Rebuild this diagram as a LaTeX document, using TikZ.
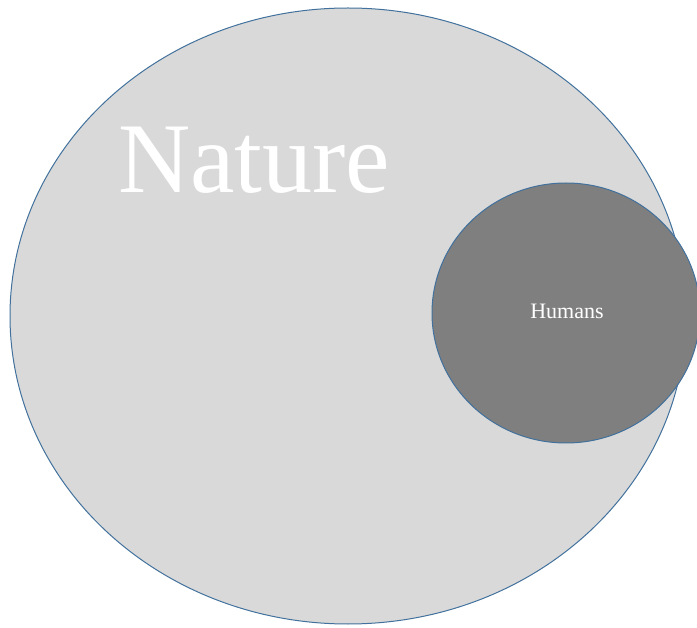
\documentclass[tikz,border=0pt]{standalone}
\usepackage{fontspec}
\setmainfont{Liberation Serif}
\definecolor{bigfill}{HTML}{D9D9D9}
\definecolor{smallfill}{HTML}{7F7F7F}
\definecolor{edge}{HTML}{41719C}
\begin{document}
\begin{tikzpicture}[x=1pt,y=1pt,
  blob/.style={draw=edge,line width=1pt}]
\useasboundingbox (0,0) rectangle (697,-628);
\begin{scope}
\clip (0,0) rectangle (697,-628);
\path[blob,fill=bigfill] (348,-316) ellipse [x radius=338, y radius=308];
\path[blob,fill=smallfill] (566,-313) ellipse [x radius=134, y radius=130];
\end{scope}
\node[anchor=base west,inner sep=0,text=white,font=\fontsize{100}{100}\selectfont] (nature) at (118,-193) {Nature};
\node[anchor=base,inner sep=0,text=white,font=\fontsize{22}{22}\selectfont] (humans) at (567,-319) {Humans};
\end{tikzpicture}
\end{document}
